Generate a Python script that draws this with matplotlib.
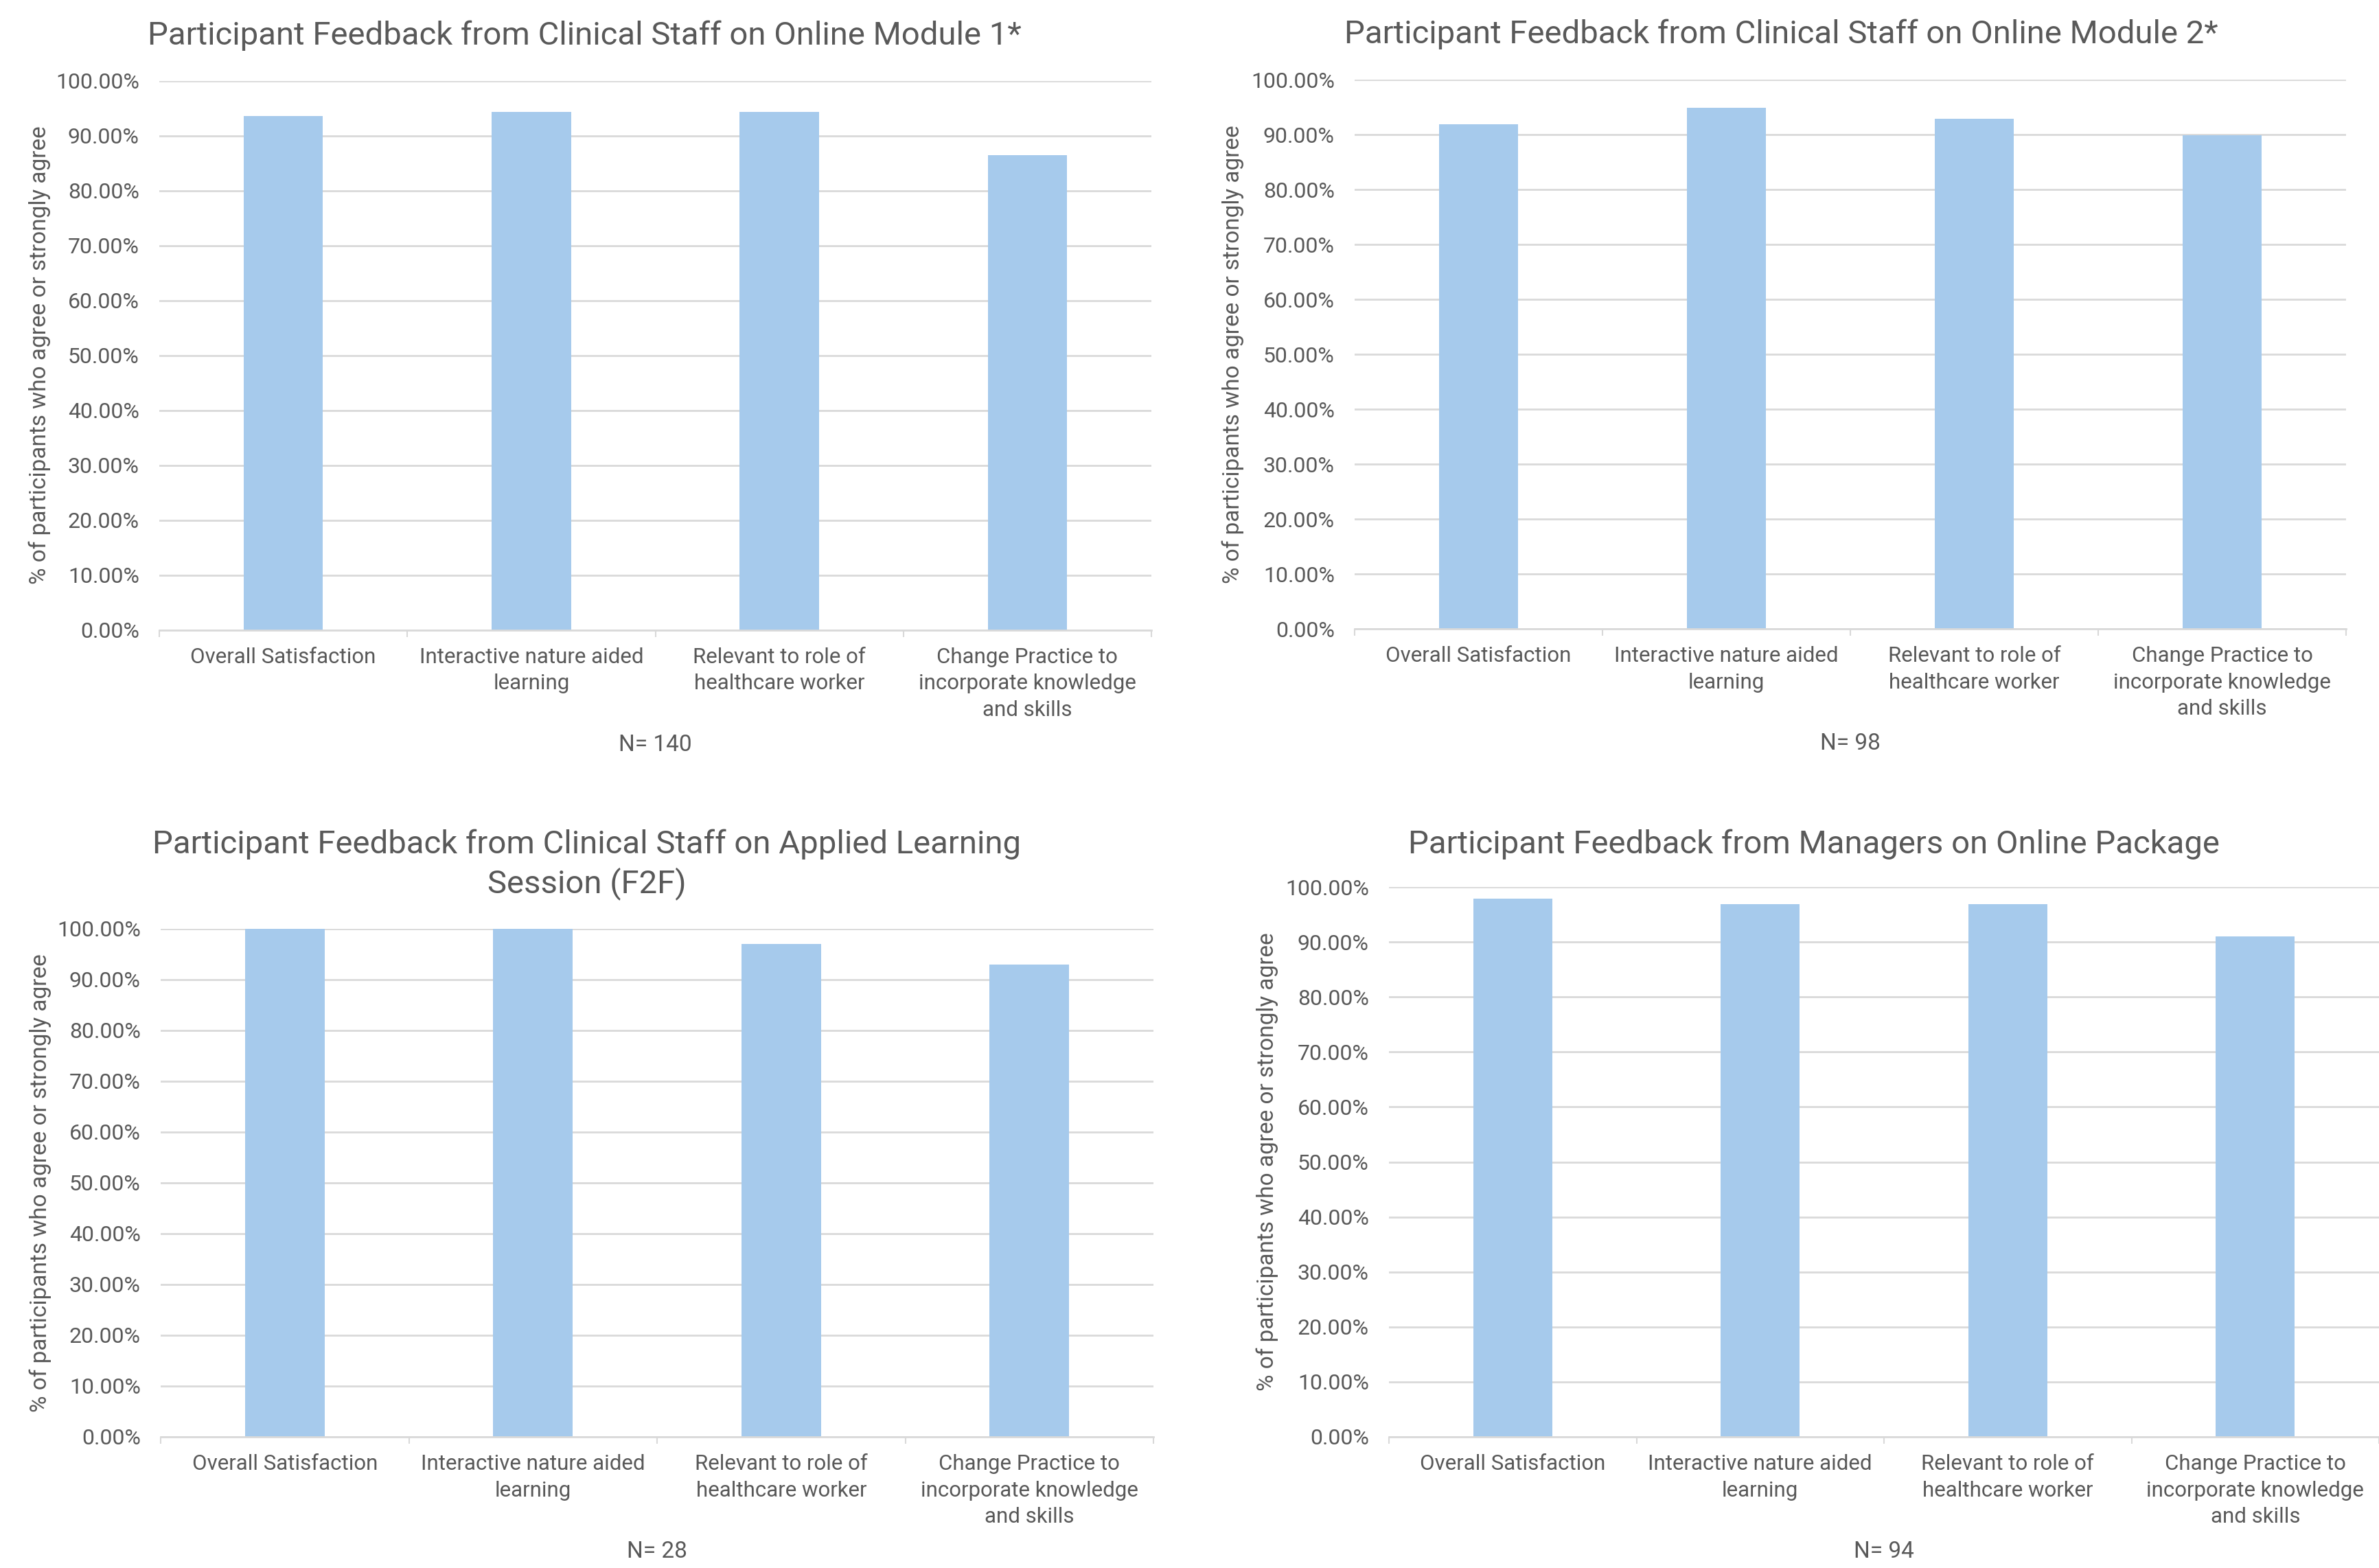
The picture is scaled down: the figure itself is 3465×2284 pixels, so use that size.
import matplotlib
matplotlib.use("Agg")
import matplotlib.pyplot as plt
from matplotlib.ticker import FixedLocator, PercentFormatter

plt.rcParams['font.family'] = ['Roboto', 'DejaVu Sans']

categories = ["Overall Satisfaction",
              "Interactive nature aided\nlearning",
              "Relevant to role of\nhealthcare worker",
              "Change Practice to\nincorporate knowledge\nand skills"]

titles = ["Participant Feedback from Clinical Staff on Online Module 1*",
          "Participant Feedback from Clinical Staff on Online Module 2*",
          "Participant Feedback from Clinical Staff on Applied Learning\nSession (F2F)",
          "Participant Feedback from Managers on Online Package"]

module1_values = [93.57, 94.29, 94.29, 86.43]
module2_values = [91.9, 94.9, 92.86, 89.9]
f2f_values = [100.0, 100.0, 96.9, 92.86]
managers_values = [97.87, 96.9, 96.9, 91.0]

n_labels = ["N= 140", "N= 98", "N= 28", "N= 94"]
y_ticks = [0, 10, 20, 30, 40, 50, 60, 70, 80, 90, 100]

W, H = 3465, 2284
fig = plt.figure(figsize=(W / 100, H / 100), dpi=100)
fig.patch.set_facecolor("white")

TEXT = "#595959"
BAR = "#A6CAEC"
GRID = "#D9D9D9"

# pixel boxes: left, right, top(100%), bottom(0%)
boxes = [(232, 1677, 117.5, 917.5),
         (1973, 3417, 116, 916),
         (234, 1680, 1352.5, 2093),
         (2023, 3465, 1292, 2093)]
title_pos = [(851, 52), (2594, 50), (855, 1259), (2642, 1230)]
ylabel_x = [58, 1796, 59, 1846]

series = [module1_values, module2_values, f2f_values, managers_values]

for i in range(4):
    l, r, t, b = boxes[i]
    ax = fig.add_axes([l / W, 1 - b / H, (r - l) / W, (b - t) / H])
    x = list(range(len(categories)))
    ax.bar(x, series[i], width=0.32, color=BAR, zorder=3)
    ax.set_xlim(-0.5, 3.5)
    ax.set_ylim(0, 100)
    ax.set_yticks(y_ticks)
    ax.yaxis.set_major_formatter(PercentFormatter(decimals=2))
    ax.grid(axis='y', color=GRID, linewidth=2.0, zorder=0)
    for s in ["top", "right", "left"]:
        ax.spines[s].set_visible(False)
    ax.spines["bottom"].set_color(GRID)
    ax.spines["bottom"].set_linewidth(2.0)
    ax.spines["bottom"].set_zorder(4)
    ax.tick_params(axis='y', length=0, pad=21, labelsize=23, labelcolor=TEXT)
    ax.set_xticks(x)
    ax.set_xticklabels(categories, fontsize=22.5, color=TEXT, linespacing=1.42)
    ax.tick_params(axis='x', which='major', length=0, pad=18)
    ax.xaxis.set_minor_locator(FixedLocator([-0.5, 0.5, 1.5, 2.5, 3.5]))
    ax.tick_params(axis='x', which='minor', length=7.5, width=1.5, color=GRID)
    for lab in ax.get_xticklabels():
        lab.set_verticalalignment('top')
    tx, ty = title_pos[i]
    fig.text(tx / W, 1 - ty / H, titles[i], ha='center', va='center',
             fontsize=34, color=TEXT, linespacing=1.3)
    fig.text(ylabel_x[i] / W, 1 - ((t + b) / 2) / H,
             "% of participants who agree or strongly agree",
             rotation=90, ha='center', va='center', fontsize=24, color=TEXT)
    fig.text(((l + r) / 2) / W, 1 - (b + 167) / H, n_labels[i],
             ha='center', va='center', fontsize=24, color=TEXT)

fig.savefig("out.png", dpi=100, facecolor="white")
